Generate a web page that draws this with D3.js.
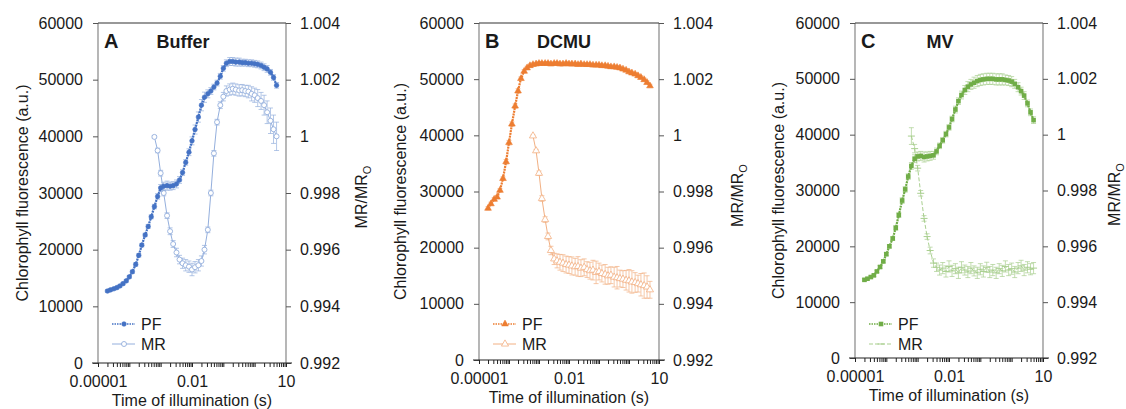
<!DOCTYPE html>
<html>
<head>
<meta charset="utf-8">
<script src="https://cdn.jsdelivr.net/npm/d3@7"></script>
<style>
  body { margin: 0; background: #fff; }
  svg text { font-family: Arial, "Liberation Sans", sans-serif; fill: #1a1a1a; }
</style>
</head>
<body>
<svg id="chart" width="1126" height="409"></svg>
<script>
"use strict";

// time of illumination (s), shared by the PF traces
const times = [0.00002, 0.000025, 0.000032, 0.00004, 0.00005, 0.000063, 0.00008,
  0.0001, 0.000125, 0.00016, 0.0002, 0.00025, 0.00032, 0.0004, 0.0005, 0.00063, 0.0008,
  0.001, 0.00125, 0.0016, 0.002, 0.0025, 0.0032, 0.004, 0.005, 0.0063, 0.008,
  0.01, 0.0125, 0.016, 0.02, 0.025, 0.032, 0.04, 0.05, 0.063, 0.08,
  0.1, 0.125, 0.16, 0.2, 0.25, 0.32, 0.4, 0.5, 0.63, 0.8,
  1, 1.25, 1.6, 2, 2.5, 3.2, 4, 5];

// MR traces start later
const mrTimes = [0.00063, 0.0008,
  0.001, 0.00125, 0.0016, 0.002, 0.0025, 0.0032, 0.004, 0.005, 0.0063, 0.008,
  0.01, 0.0125, 0.016, 0.02, 0.025, 0.032, 0.04, 0.05, 0.063, 0.08,
  0.1, 0.125, 0.16, 0.2, 0.25, 0.32, 0.4, 0.5, 0.63, 0.8,
  1, 1.25, 1.6, 2, 2.5, 3.2, 4, 5];

// A - Buffer
const pfBuffer = [12700, 12900, 13100, 13300, 13600, 14000, 14500,
  15200, 16100, 17400, 19000, 20800, 22600, 24100, 25800, 27600, 29400,
  30900, 31200, 31300, 31200, 31300, 31600, 32300, 33600, 35400, 37200,
  39200, 41200, 43400, 45500, 46900, 47500, 48000, 48700, 49400, 50600,
  52000, 52900, 53200, 53200, 53100, 53100, 53000, 53000, 52900, 52900,
  52800, 52700, 52500, 52200, 51900, 51300, 50400, 49000];
const pfBufferErr = [200, 200, 200, 200, 200, 200, 250,
  250, 300, 300, 300, 300, 300, 350, 350, 400, 500,
  600, 700, 800, 700, 700, 700, 600, 500, 500, 600,
  700, 800, 900, 1000, 900, 700, 600, 500, 500, 500,
  500, 600, 700, 700, 700, 700, 600, 600, 600, 600,
  600, 600, 600, 600, 600, 500, 500, 500];
const mrBuffer = [0.99998, 0.99950,
  0.99870, 0.99800, 0.99720, 0.99665, 0.99620, 0.99590, 0.99565, 0.99552, 0.99545, 0.99540,
  0.99530, 0.99538, 0.99545, 0.99560, 0.99600, 0.99670, 0.99800, 0.99940, 1.00050, 1.00110,
  1.00140, 1.00160, 1.00165, 1.00168, 1.00165, 1.00162, 1.00163, 1.00160, 1.00158, 1.00150,
  1.00145, 1.00135, 1.00125, 1.00110, 1.00085, 1.00055, 1.00025, 1.00000];
const mrBufferErr = [0.00005, 0.00008,
  0.0001, 0.0001, 0.0001, 0.00012, 0.00012, 0.00015, 0.00015, 0.00018, 0.0002, 0.0002,
  0.00022, 0.0002, 0.0002, 0.00018, 0.00015, 0.0001, 0.0001, 0.0001, 0.0001, 0.00012,
  0.00015, 0.00018, 0.0002, 0.0002, 0.0002, 0.0002, 0.0002, 0.0002, 0.00022, 0.00025,
  0.00025, 0.0003, 0.0003, 0.00035, 0.0004, 0.00045, 0.0005, 0.0005];

// B - DCMU
const pfDcmu = [27000, 27800, 28600, 29000, 30200, 32300, 35300,
  38700, 42000, 45200, 47900, 50100, 51400, 52000, 52400, 52600, 52700,
  52800, 52800, 52800, 52800, 52700, 52800, 52800, 52700, 52700, 52800,
  52700, 52700, 52700, 52600, 52700, 52600, 52600, 52600, 52500, 52500,
  52500, 52400, 52400, 52300, 52200, 52200, 52100, 52000, 51800, 51600,
  51300, 51100, 50900, 50600, 50300, 49900, 49400, 48800];
const pfDcmuErr = [300, 300, 300, 300, 300, 300, 400,
  400, 400, 400, 400, 300, 300, 300, 300, 300, 300,
  300, 300, 300, 300, 300, 300, 300, 300, 300, 300,
  300, 300, 300, 300, 300, 300, 300, 300, 300, 300,
  300, 300, 300, 300, 300, 300, 300, 300, 300, 300,
  300, 300, 300, 300, 300, 300, 300, 300];
const mrDcmu = [0.99998, 0.99945,
  0.99865, 0.99775, 0.99700, 0.99640, 0.99590, 0.99560, 0.99553, 0.99548, 0.99545, 0.99540,
  0.99538, 0.99535, 0.99532, 0.99533, 0.99527, 0.99530, 0.99522, 0.99518, 0.99520, 0.99512,
  0.99515, 0.99508, 0.99505, 0.99500, 0.99502, 0.99495, 0.99493, 0.99490, 0.99488, 0.99484,
  0.99482, 0.99478, 0.99476, 0.99472, 0.99468, 0.99465, 0.99460, 0.99450];
const mrDcmuErr = [0.00003, 0.00005,
  0.00008, 0.0001, 0.0001, 0.00012, 0.00015, 0.0002, 0.00025, 0.00028, 0.0003, 0.0003,
  0.0003, 0.00032, 0.0003, 0.00035, 0.0003, 0.0003, 0.00028, 0.0003, 0.00035, 0.0004,
  0.0003, 0.0003, 0.00035, 0.0003, 0.0003, 0.00035, 0.0004, 0.0003, 0.0003, 0.00035,
  0.0004, 0.0004, 0.00035, 0.0003, 0.0004, 0.00045, 0.0004, 0.0003];

// C - MV
const pfMv = [14000, 14200, 14500, 14800, 15500, 16300, 17300,
  18600, 20000, 21400, 23300, 25600, 28200, 30200, 32500, 34400, 35700,
  36100, 36200, 36000, 36100, 36200, 36300, 37000, 38000, 39000, 40100,
  41300, 42800, 44500, 46000, 47100, 48000, 48600, 49000, 49300, 49600,
  49800, 49900, 50000, 50000, 50000, 49900, 49900, 49900, 49800, 49700,
  49500, 49100, 48500, 47800, 47000, 45600, 44000, 42600];
const pfMvErr = [200, 200, 200, 200, 200, 250, 250,
  300, 300, 300, 400, 400, 500, 500, 500, 600, 700,
  800, 800, 900, 800, 800, 700, 600, 500, 500, 500,
  500, 500, 600, 600, 700, 800, 900, 900, 1000, 1000,
  1000, 1000, 1000, 1000, 1000, 1000, 1000, 1000, 900, 900,
  900, 800, 800, 700, 700, 600, 600, 600];
const mrMv = [0.99995, 0.99950,
  0.99880, 0.99790, 0.99700, 0.99635, 0.99585, 0.99540, 0.99525, 0.99515, 0.99522, 0.99510,
  0.99528, 0.99512, 0.99520, 0.99505, 0.99525, 0.99515, 0.99508, 0.99522, 0.99512, 0.99505,
  0.99518, 0.99510, 0.99525, 0.99508, 0.99515, 0.99505, 0.99520, 0.99512, 0.99528, 0.99515,
  0.99520, 0.99508, 0.99522, 0.99530, 0.99515, 0.99525, 0.99518, 0.99522];
const mrMvErr = [0.0003, 0.00015,
  0.0001, 0.0001, 0.0001, 0.0001, 0.00012, 0.00015, 0.00015, 0.00018, 0.0002, 0.0002,
  0.0002, 0.0002, 0.00018, 0.0002, 0.0002, 0.00018, 0.0002, 0.0002, 0.00018, 0.0002,
  0.0002, 0.0002, 0.00018, 0.0002, 0.0002, 0.0002, 0.00018, 0.0002, 0.0002, 0.0002,
  0.0002, 0.0002, 0.0002, 0.0002, 0.0002, 0.0002, 0.0002, 0.0002];

const leftTicks = [0, 10000, 20000, 30000, 40000, 50000, 60000];
const rightTicks = [0.992, 0.994, 0.996, 0.998, 1, 1.002, 1.004];
const xMajor = [0.00001, 0.01, 10];
const xMajorLabels = ["0.00001", "0.01", "10"];
const seriesNames = ["PF", "MR"];

const svg = d3.select("#chart");

const panels = [
  {letter: "A", name: "Buffer", pf: pfBuffer, pfErr: pfBufferErr, mr: mrBuffer, mrErr: mrBufferErr,
   dark: "#4472c4", light: "#94afdd", pfShape: "circle", mrShape: "circle", mrDash: null,
   left: 98, right: 286, top: 23, bottom: 363, yTitleX: 28, rTitleX: 367},
  {letter: "B", name: "DCMU", pf: pfDcmu, pfErr: pfDcmuErr, mr: mrDcmu, mrErr: mrDcmuErr,
   dark: "#ed7d31", light: "#f2b083", pfShape: "triangle", mrShape: "triangle", mrDash: null,
   left: 479, right: 659, top: 23, bottom: 360, yTitleX: 406, rTitleX: 743},
  {letter: "C", name: "MV", pf: pfMv, pfErr: pfMvErr, mr: mrMv, mrErr: mrMvErr,
   dark: "#70ad47", light: "#a9cf8f", pfShape: "square", mrShape: "dash", mrDash: "4,2",
   left: 855, right: 1043, top: 23, bottom: 358, yTitleX: 784, rTitleX: 1120}
];

// all ticks 1..9 x 10^k on the log axis
function logTicks()
{
  let t = [];
  for (let k = -5; k <= 0; k++)
    for (let m = 1; m <= 9; m++)
      t.push(m * Math.pow(10, k));
  t.push(10);
  return t;
}

function drawMarker(g, shape, cx, cy, color, filled)
{
  if (shape === "circle")
  {
    g.append("circle").attr("cx", cx).attr("cy", cy).attr("r", filled ? 2.3 : 2.5)
     .attr("fill", filled ? color : "#fff").attr("stroke", color).attr("stroke-width", filled ? 0.6 : 0.9);
  }
  else if (shape === "triangle")
  {
    g.append("path").attr("d", d3.symbol().type(d3.symbolTriangle).size(filled ? 20 : 22)())
     .attr("transform", "translate(" + cx + "," + cy + ")")
     .attr("fill", filled ? color : "#fff").attr("stroke", color).attr("stroke-width", filled ? 0.5 : 0.8);
  }
  else if (shape === "square")
  {
    g.append("rect").attr("x", cx - 2.3).attr("y", cy - 2.3).attr("width", 4.6).attr("height", 4.6)
     .attr("fill", color);
  }
  else
  {
    g.append("line").attr("x1", cx - 3.5).attr("x2", cx + 3.5).attr("y1", cy).attr("y2", cy)
     .attr("stroke", color).attr("stroke-width", 1);
  }
}

function drawErrors(g, xs, vals, errs, sx, sy, color)
{
  for (let i = 0; i < vals.length; i++)
  {
    let px = sx(xs[i]);
    let y1 = sy(vals[i] - errs[i]);
    let y2 = sy(vals[i] + errs[i]);
    g.append("line").attr("x1", px).attr("x2", px).attr("y1", y1).attr("y2", y2)
     .attr("stroke", color).attr("stroke-width", 0.7);
    g.append("line").attr("x1", px - 2.5).attr("x2", px + 2.5).attr("y1", y1).attr("y2", y1)
     .attr("stroke", color).attr("stroke-width", 0.7);
    g.append("line").attr("x1", px - 2.5).attr("x2", px + 2.5).attr("y1", y2).attr("y2", y2)
     .attr("stroke", color).attr("stroke-width", 0.7);
  }
}

function drawPanel(p)
{
  let x = d3.scaleLog().domain([0.00001, 10]).range([p.left, p.right]);
  let yL = d3.scaleLinear().domain([0, 60000]).range([p.bottom, p.top]);
  let yR = d3.scaleLinear().domain([0.992, 1.004]).range([p.bottom, p.top]);
  let g = svg.append("g");

  // frame: gray sides, dark top
  g.append("line").attr("x1", p.left).attr("x2", p.left).attr("y1", p.top).attr("y2", p.bottom)
   .attr("stroke", "#868686").attr("stroke-width", 1.2);
  g.append("line").attr("x1", p.right).attr("x2", p.right).attr("y1", p.top).attr("y2", p.bottom)
   .attr("stroke", "#868686").attr("stroke-width", 1.2);
  g.append("line").attr("x1", p.left).attr("x2", p.right).attr("y1", p.top).attr("y2", p.top)
   .attr("stroke", "#333").attr("stroke-width", 1.2);

  let ax = g.append("g").attr("transform", "translate(" + p.left + ",0)")
            .call(d3.axisLeft(yL).tickValues(leftTicks).tickSize(5).tickSizeOuter(0).tickPadding(10)
                    .tickFormat(d3.format("d")));
  let ar = g.append("g").attr("transform", "translate(" + p.right + ",0)")
            .call(d3.axisRight(yR).tickValues(rightTicks).tickSize(5).tickSizeOuter(0).tickPadding(9)
                    .tickFormat((d)=>{return d === 1 ? "1" : d3.format(".3f")(d);}));
  let ab = g.append("g").attr("transform", "translate(0," + p.bottom + ")")
            .call(d3.axisBottom(x).tickValues(logTicks()).tickSize(4).tickSizeOuter(0).tickPadding(6)
                    .tickFormat((d)=>{
                      let i = xMajor.findIndex((v)=>{return Math.abs(v - d) / v < 1e-6;});
                      return i >= 0 ? xMajorLabels[i] : "";
                    }));
  [ax, ar, ab].forEach((a)=>{
    a.attr("font-size", 16).attr("font-family", "Arial, 'Liberation Sans', sans-serif");
    a.selectAll("text").attr("fill", "#1a1a1a");
  });
  ax.select(".domain").remove();
  ar.select(".domain").remove();
  ax.selectAll(".tick line").attr("stroke", "#555");
  ar.selectAll(".tick line").attr("stroke", "#555");
  ab.select(".domain").attr("stroke", "#222").attr("stroke-width", 1.2)
    .attr("d", "M" + (p.left - 6) + ",0H" + (p.right + 6));
  ab.selectAll(".tick line").attr("stroke", "#222");
  ab.selectAll(".tick text").attr("dy", "0.9em");

  // axis titles
  g.append("text").attr("transform", "translate(" + p.yTitleX + "," + ((p.top + p.bottom) / 2) + ") rotate(-90)")
   .attr("text-anchor", "middle").attr("font-size", 16).text("Chlorophyll fluorescence (a.u.)");
  let rt = g.append("text")
            .attr("transform", "translate(" + p.rTitleX + "," + ((p.top + p.bottom) / 2 + 4) + ") rotate(-90)")
            .attr("text-anchor", "middle").attr("font-size", 16);
  rt.append("tspan").text("MR/MR");
  rt.append("tspan").attr("font-size", 11).attr("dy", 4).text("O");
  g.append("text").attr("x", (p.left + p.right) / 2).attr("y", p.bottom + 43)
   .attr("text-anchor", "middle").attr("font-size", 16).text("Time of illumination (s)");

  // panel labels
  g.append("text").attr("x", p.left + 6).attr("y", p.top + 25).attr("font-size", 20)
   .attr("font-weight", "bold").text(p.letter);
  g.append("text").attr("x", p.left + 85).attr("y", p.top + 25).attr("font-size", 18)
   .attr("font-weight", "bold").attr("text-anchor", "middle").text(p.name);

  // MR trace (right axis)
  let plot = g.append("g");
  drawErrors(plot, mrTimes, p.mr, p.mrErr, x, yR, p.light);
  let mrLine = d3.line().x((d, i)=>{return x(mrTimes[i]);}).y((d)=>{return yR(d);});
  plot.append("path").datum(p.mr).attr("d", mrLine).attr("fill", "none")
      .attr("stroke", p.light).attr("stroke-width", 1)
      .attr("stroke-dasharray", p.mrDash);
  p.mr.forEach((v, i)=>{drawMarker(plot, p.mrShape, x(mrTimes[i]), yR(v), p.light, false);});

  // PF trace (left axis)
  drawErrors(plot, times, p.pf, p.pfErr, x, yL, p.light);
  let pfLine = d3.line().x((d, i)=>{return x(times[i]);}).y((d)=>{return yL(d);});
  plot.append("path").datum(p.pf).attr("d", pfLine).attr("fill", "none")
      .attr("stroke", p.dark).attr("stroke-width", 2.2).attr("stroke-dasharray", "2,0.8");
  p.pf.forEach((v, i)=>{drawMarker(plot, p.pfShape, x(times[i]), yL(v), p.dark, true);});

  // legend
  let lg = g.append("g");
  let ly = [324, 344];
  seriesNames.forEach((s, i)=>{
    let col = i === 0 ? p.dark : p.light;
    lg.append("line").attr("x1", p.left + 14).attr("x2", p.left + 37).attr("y1", ly[i]).attr("y2", ly[i])
      .attr("stroke", col).attr("stroke-width", i === 0 ? 1.4 : 1)
      .attr("stroke-dasharray", i === 0 ? "1.5,1" : p.mrDash);
    drawMarker(lg, i === 0 ? p.pfShape : p.mrShape, p.left + 26, ly[i], col, i === 0);
    lg.append("text").attr("x", p.left + 43).attr("y", ly[i] + 6).attr("font-size", 16).text(s);
  });
}

panels.forEach(drawPanel);
</script>
</body>
</html>
